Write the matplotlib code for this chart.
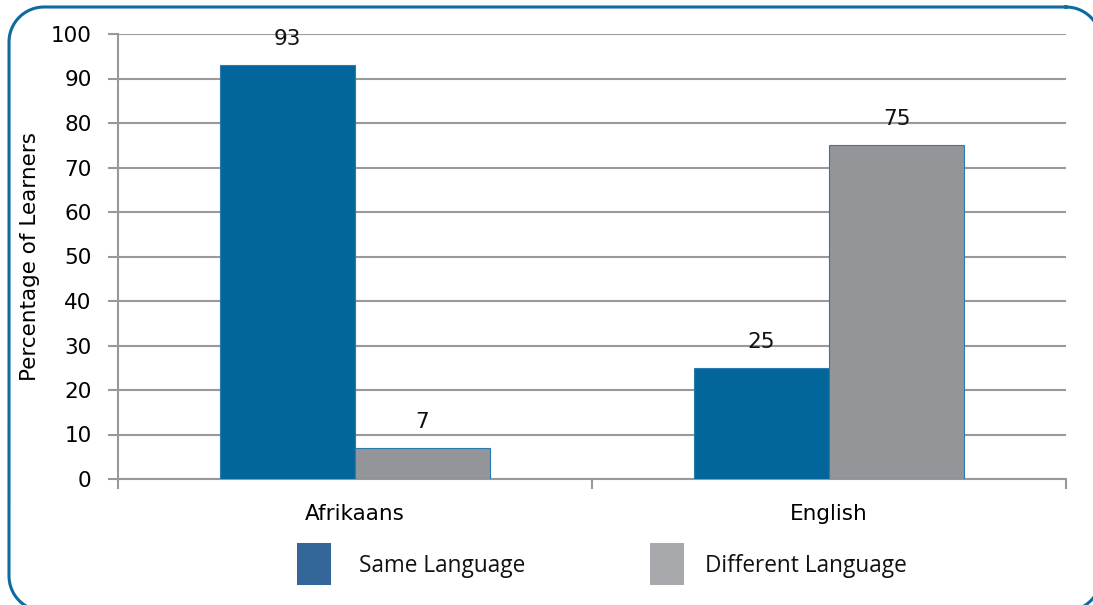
import matplotlib
matplotlib.use("Agg")
import matplotlib.pyplot as plt
from matplotlib.patches import Rectangle
import numpy as np

categories = ["Afrikaans", "English"]
same_language = [93, 25]
different_language = [7, 75]
series_names = ["Same Language", "Different Language"]
yticks = [0, 10, 20, 30, 40, 50, 60, 70, 80, 90, 100]

W, H = 1093, 605
fig = plt.figure(figsize=(W / 100, H / 100), dpi=100)

# background overlay axes in pixel units for border and legend
bg = fig.add_axes([0, 0, 1, 1])
bg.set_xlim(0, W)
bg.set_ylim(H, 0)
bg.axis("off")


def rounded_frame(x0, y0, x1, y1, r, n=40):
    pts = []
    corners = [(x1 - r, y0 + r, -90, 0), (x1 - r, y1 - r, 0, 90),
               (x0 + r, y1 - r, 90, 180), (x0 + r, y0 + r, 180, 270)]
    for cx, cy, a0, a1 in corners:
        t = np.radians(np.linspace(a0, a1, n))
        pts.append(np.column_stack([cx + r * np.cos(t), cy + r * np.sin(t)]))
    pts = np.vstack(pts + [pts[0][:1]])
    return pts[:, 0], pts[:, 1]


fx, fy = rounded_frame(9, 7, 1101, 611, 35)
bg.plot(fx, fy, color="#0f6aa0", linewidth=2.2, clip_on=False, solid_joinstyle="round")

ax = fig.add_axes([118 / W, 1 - 479 / H, (1066 - 118) / W, (479 - 34) / H])
x = np.arange(len(categories))
bw = 0.285
blue = "#03669a"
grey = "#939598"
edge = "#2b7bb0"
fs = 15.5
b1 = ax.bar(x - bw / 2, same_language, bw, color=blue, edgecolor=edge, linewidth=0.8, zorder=3)
b2 = ax.bar(x + bw / 2, different_language, bw, color=grey, edgecolor=edge, linewidth=0.8, zorder=3)
for bars, vals in ((b1, same_language), (b2, different_language)):
    for r, v in zip(bars, vals):
        ax.text(r.get_x() + r.get_width() / 2, v + 3.6, str(v), ha="center", va="bottom",
                fontsize=fs, color="#111111", fontfamily="DejaVu Sans")

ax.set_xlim(-0.5, 1.5)
ax.set_ylim(0, 100)
ax.set_yticks(yticks)
ax.set_yticklabels([str(t) for t in yticks], fontsize=fs, fontfamily="DejaVu Sans")
ax.yaxis.grid(True, color="#999999", linewidth=1.5, zorder=0)
ax.set_axisbelow(True)
ax.set_xticks(x)
ax.set_xticklabels(categories, fontsize=fs, fontfamily="DejaVu Sans")
ax.set_xticks([-0.5, 0.5, 1.5], minor=True)
ax.tick_params(axis="x", which="major", length=0, pad=18)
ax.tick_params(axis="x", which="minor", length=7, width=1.5, color="#999999", direction="out")
ax.tick_params(axis="y", length=7, width=1.5, color="#999999", pad=12)
for s in ("top", "right"):
    ax.spines[s].set_visible(False)
for s in ("left", "bottom"):
    ax.spines[s].set_color("#999999")
    ax.spines[s].set_linewidth(1.5)
ax.set_ylabel("Percentage of Learners", fontsize=fs, fontfamily="DejaVu Sans", labelpad=8)

# legend
leg_colors = ["#336699", "#a7a9ac"]
leg_x = [297, 650]
text_x = [359, 705]
for c, lx, tx, name in zip(leg_colors, leg_x, text_x, series_names):
    bg.add_patch(Rectangle((lx, 543), 34, 42, facecolor=c, edgecolor="none"))
    bg.text(tx, 566, name, ha="left", va="center", fontsize=16.3,
            fontfamily="Open Sans", color="#111111")

fig.savefig("out.png", dpi=100)
